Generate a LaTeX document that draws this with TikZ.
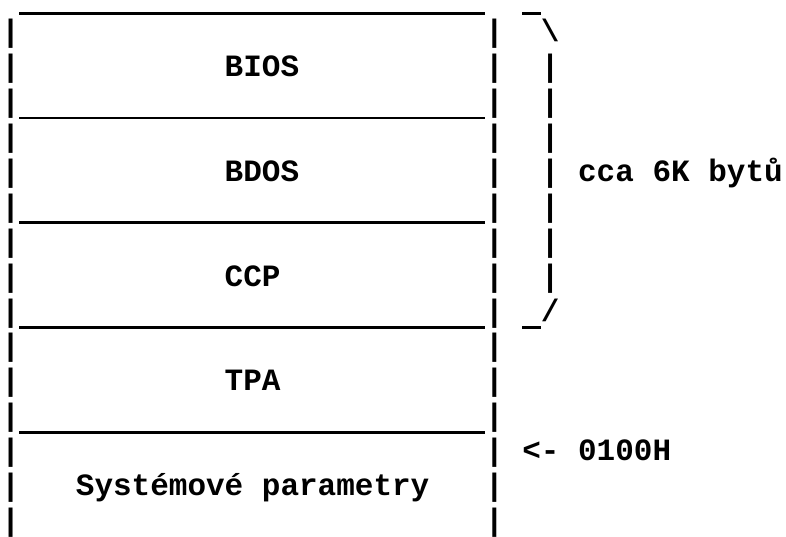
\documentclass[tikz,border=0pt]{standalone}
\usepackage{fontspec}
\newfontfamily\asciifont{Liberation Mono}
\tikzset{cell/.style={anchor=base west,inner sep=0pt,outer sep=0pt,
    font=\asciifont\bfseries\fontsize{31}{35}\selectfont},
  hbar/.style={line width=2.7pt,yshift=-6.5pt}}

\begin{document}
\begin{tikzpicture}[x=18.6pt,y=-34.9pt]
\path[use as bounding box] (0pt,0pt) rectangle (786pt,-536pt);
\begin{scope}[shift={(1.5pt,-6.9pt)}]
% walls of the memory map (one character per row)
\foreach\r in {1,...,15}
{%
  \node[cell] (lw\r) at (0,\r) {|};
  \node[cell] (rw\r) at (26,\r) {|};
}
% horizontal lines, drawn where the underscores sit
\foreach\r in {0,3,6,9,12}
  \draw[hbar] (0.95,\r) -- (26,\r);
% brace round the system part
\foreach\r in {2,...,8}
  \node[cell] (bw\r) at (29,\r) {|};
\draw[hbar] (28,0) -- (29,0);
\node[cell] (bsl)  at (29,1) {\textbackslash};
\draw[hbar] (28,9) -- (29,9);
\node[cell] (bend) at (29,9) {/};
% labels
\node[cell] (bios) at (12,2)  {BIOS};
\node[cell] (bdos) at (12,5)  {BDOS};
\node[cell] (ccp)  at (12,8)  {CCP};
\node[cell] (tpa)  at (12,11) {TPA};
\node[cell] (sys)  at (4,14)  {Systémové~parametry};
\node[cell] (size) at (31,5)  {cca~6K~bytů};
\node[cell] (addr) at (28,13) {<-~0100H};
\end{scope}
\end{tikzpicture}
\end{document}
